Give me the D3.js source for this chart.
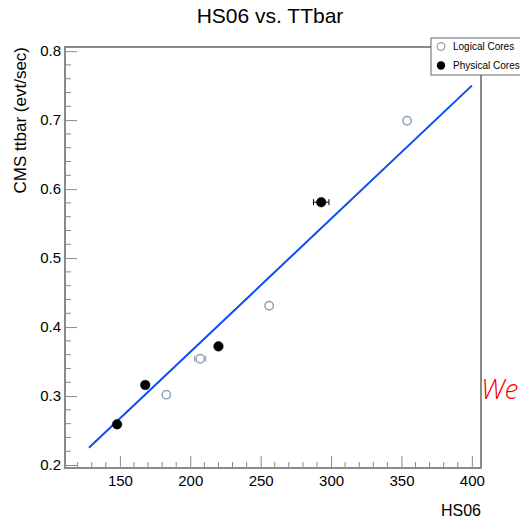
<!DOCTYPE html>
<html>
<head>
<meta charset="utf-8">
<script src="https://cdn.jsdelivr.net/npm/d3@7"></script>
<style>
  body { margin: 0; background: #fff; }
  svg { display: block; font-family: "Liberation Sans", Arial, sans-serif; }
</style>
</head>
<body>
<svg width="520" height="519"></svg>
<script>
// values
var physicalHS06 = [148, 168, 220, 293];
var physicalRate = [0.259, 0.316, 0.372, 0.581];
var physicalErr  = [0, 0, 0, 5.5];

var logicalHS06 = [183, 207, 256, 354];
var logicalRate = [0.302, 0.354, 0.431, 0.699];
var logicalErr  = [0, 4, 0, 0];

var fitHS06 = [128, 400];
var fitRate = [0.225, 0.750];

var xTicks = [150, 200, 250, 300, 350, 400];
var yTicks = [0.2, 0.3, 0.4, 0.5, 0.6, 0.7, 0.8];

var svg = d3.select("svg"),
    padL = 65, padR = 481, padT = 47, padB = 468;

var x = d3.scaleLinear().domain([111, 406.5]).range([padL, padR]);
var y = d3.scaleLinear().domain([0.1957, 0.806]).range([padB, padT]);

var frameColor = "#8a8a8a";

// title
svg.append("text")
    .attr("x", 270).attr("y", 23)
    .attr("text-anchor", "middle")
    .style("font-size", "21px")
    .text("HS06 vs. TTbar");

// minor ticks
var xMinor = d3.range(120, 406, 10).filter(function(d) { return d % 50 != 0; });
var yMinor = d3.range(0.2, 0.806, 0.02).filter(function(d) { return Math.abs(d * 10 - Math.round(d * 10)) > 0.01; });

var g = svg.append("g");

g.selectAll(".xminor").data(xMinor).enter().append("line")
    .attr("x1", function(d) { return x(d); }).attr("x2", function(d) { return x(d); })
    .attr("y1", padB).attr("y2", padB - 6)
    .attr("stroke", frameColor).attr("stroke-width", 1);

g.selectAll(".yminor").data(yMinor).enter().append("line")
    .attr("y1", function(d) { return y(d); }).attr("y2", function(d) { return y(d); })
    .attr("x1", padL).attr("x2", padL + 6)
    .attr("stroke", frameColor).attr("stroke-width", 1);

// axes (ticks point inward)
var xAxis = svg.append("g")
    .attr("transform", "translate(0," + padB + ")")
    .call(d3.axisBottom(x).tickValues(xTicks).tickSize(-12).tickPadding(7).tickFormat(d3.format("d")));
xAxis.select(".domain").remove();
xAxis.selectAll("line").attr("stroke", frameColor);
xAxis.selectAll("text").style("font-size", "15px").attr("fill", "#000").attr("font-family", "Liberation Sans, Arial, sans-serif");

var yAxis = svg.append("g")
    .attr("transform", "translate(" + padL + ",0)")
    .call(d3.axisLeft(y).tickValues(yTicks).tickSize(-12).tickPadding(4).tickFormat(d3.format(".1f")));
yAxis.select(".domain").remove();
yAxis.selectAll("line").attr("stroke", frameColor);
yAxis.selectAll("text").style("font-size", "15px").attr("fill", "#000").attr("font-family", "Liberation Sans, Arial, sans-serif");

// frame
svg.append("rect")
    .attr("x", padL).attr("y", padT)
    .attr("width", padR - padL).attr("height", padB - padT)
    .attr("fill", "none").attr("stroke", frameColor).attr("stroke-width", 2);

// axis titles
svg.append("text")
    .attr("x", padR).attr("y", 516)
    .attr("text-anchor", "end")
    .style("font-size", "16px")
    .text("HS06");

svg.append("text")
    .attr("transform", "translate(26," + padT + ") rotate(-90)")
    .attr("text-anchor", "end")
    .style("font-size", "17px")
    .text("CMS ttbar (evt/sec)");

// fit line
svg.append("line")
    .attr("x1", x(fitHS06[0])).attr("y1", y(fitRate[0]))
    .attr("x2", x(fitHS06[1])).attr("y2", y(fitRate[1]))
    .attr("stroke", "#0a4cf5").attr("stroke-width", 2);

function drawPoints(hs, rate, err, color, filled) {
  var pts = hs.map(function(d, i) { return {x: d, y: rate[i], e: err[i]}; });
  var grp = svg.append("g");
  var withErr = pts.filter(function(d) { return d.e > 0; });
  withErr.forEach(function(d) {
    grp.append("line")
        .attr("x1", x(d.x - d.e)).attr("x2", x(d.x + d.e))
        .attr("y1", y(d.y)).attr("y2", y(d.y))
        .attr("stroke", color).attr("stroke-width", 1);
    [d.x - d.e, d.x + d.e].forEach(function(v) {
      grp.append("line")
          .attr("x1", x(v)).attr("x2", x(v))
          .attr("y1", y(d.y) - 3).attr("y2", y(d.y) + 3)
          .attr("stroke", color).attr("stroke-width", 1);
    });
  });
  grp.selectAll("circle").data(pts).enter().append("circle")
      .attr("cx", function(d) { return x(d.x); })
      .attr("cy", function(d) { return y(d.y); })
      .attr("r", filled ? 4.8 : 4.2)
      .attr("fill", filled ? color : "#fff")
      .attr("stroke", color)
      .attr("stroke-width", filled ? 0.5 : 1.5);
}

drawPoints(logicalHS06, logicalRate, logicalErr, "#8fa2b6", false);
drawPoints(physicalHS06, physicalRate, physicalErr, "#000", true);

// legend
var leg = svg.append("g");
leg.append("rect")
    .attr("x", 431).attr("y", 38).attr("width", 100).attr("height", 37)
    .attr("fill", "#fff").attr("stroke", "#666").attr("stroke-width", 1);
leg.append("circle").attr("cx", 441).attr("cy", 46.5).attr("r", 3.8)
    .attr("fill", "#fff").attr("stroke", "#8fa2b6").attr("stroke-width", 1.3);
leg.append("circle").attr("cx", 441).attr("cy", 65.5).attr("r", 4.2).attr("fill", "#000");
leg.append("text").attr("x", 453).attr("y", 50).style("font-size", "10px").text("Logical Cores");
leg.append("text").attr("x", 453).attr("y", 69).style("font-size", "10px").text("Physical Cores");

// red overlay text on the right edge
svg.append("text")
    .attr("x", 481).attr("y", 399)
    .attr("font-family", "'Open Sans', sans-serif")
    .attr("font-style", "italic").attr("font-weight", 300)
    .style("font-size", "28px")
    .attr("fill", "#ff0000")
    .text("We");
</script>
</body>
</html>
